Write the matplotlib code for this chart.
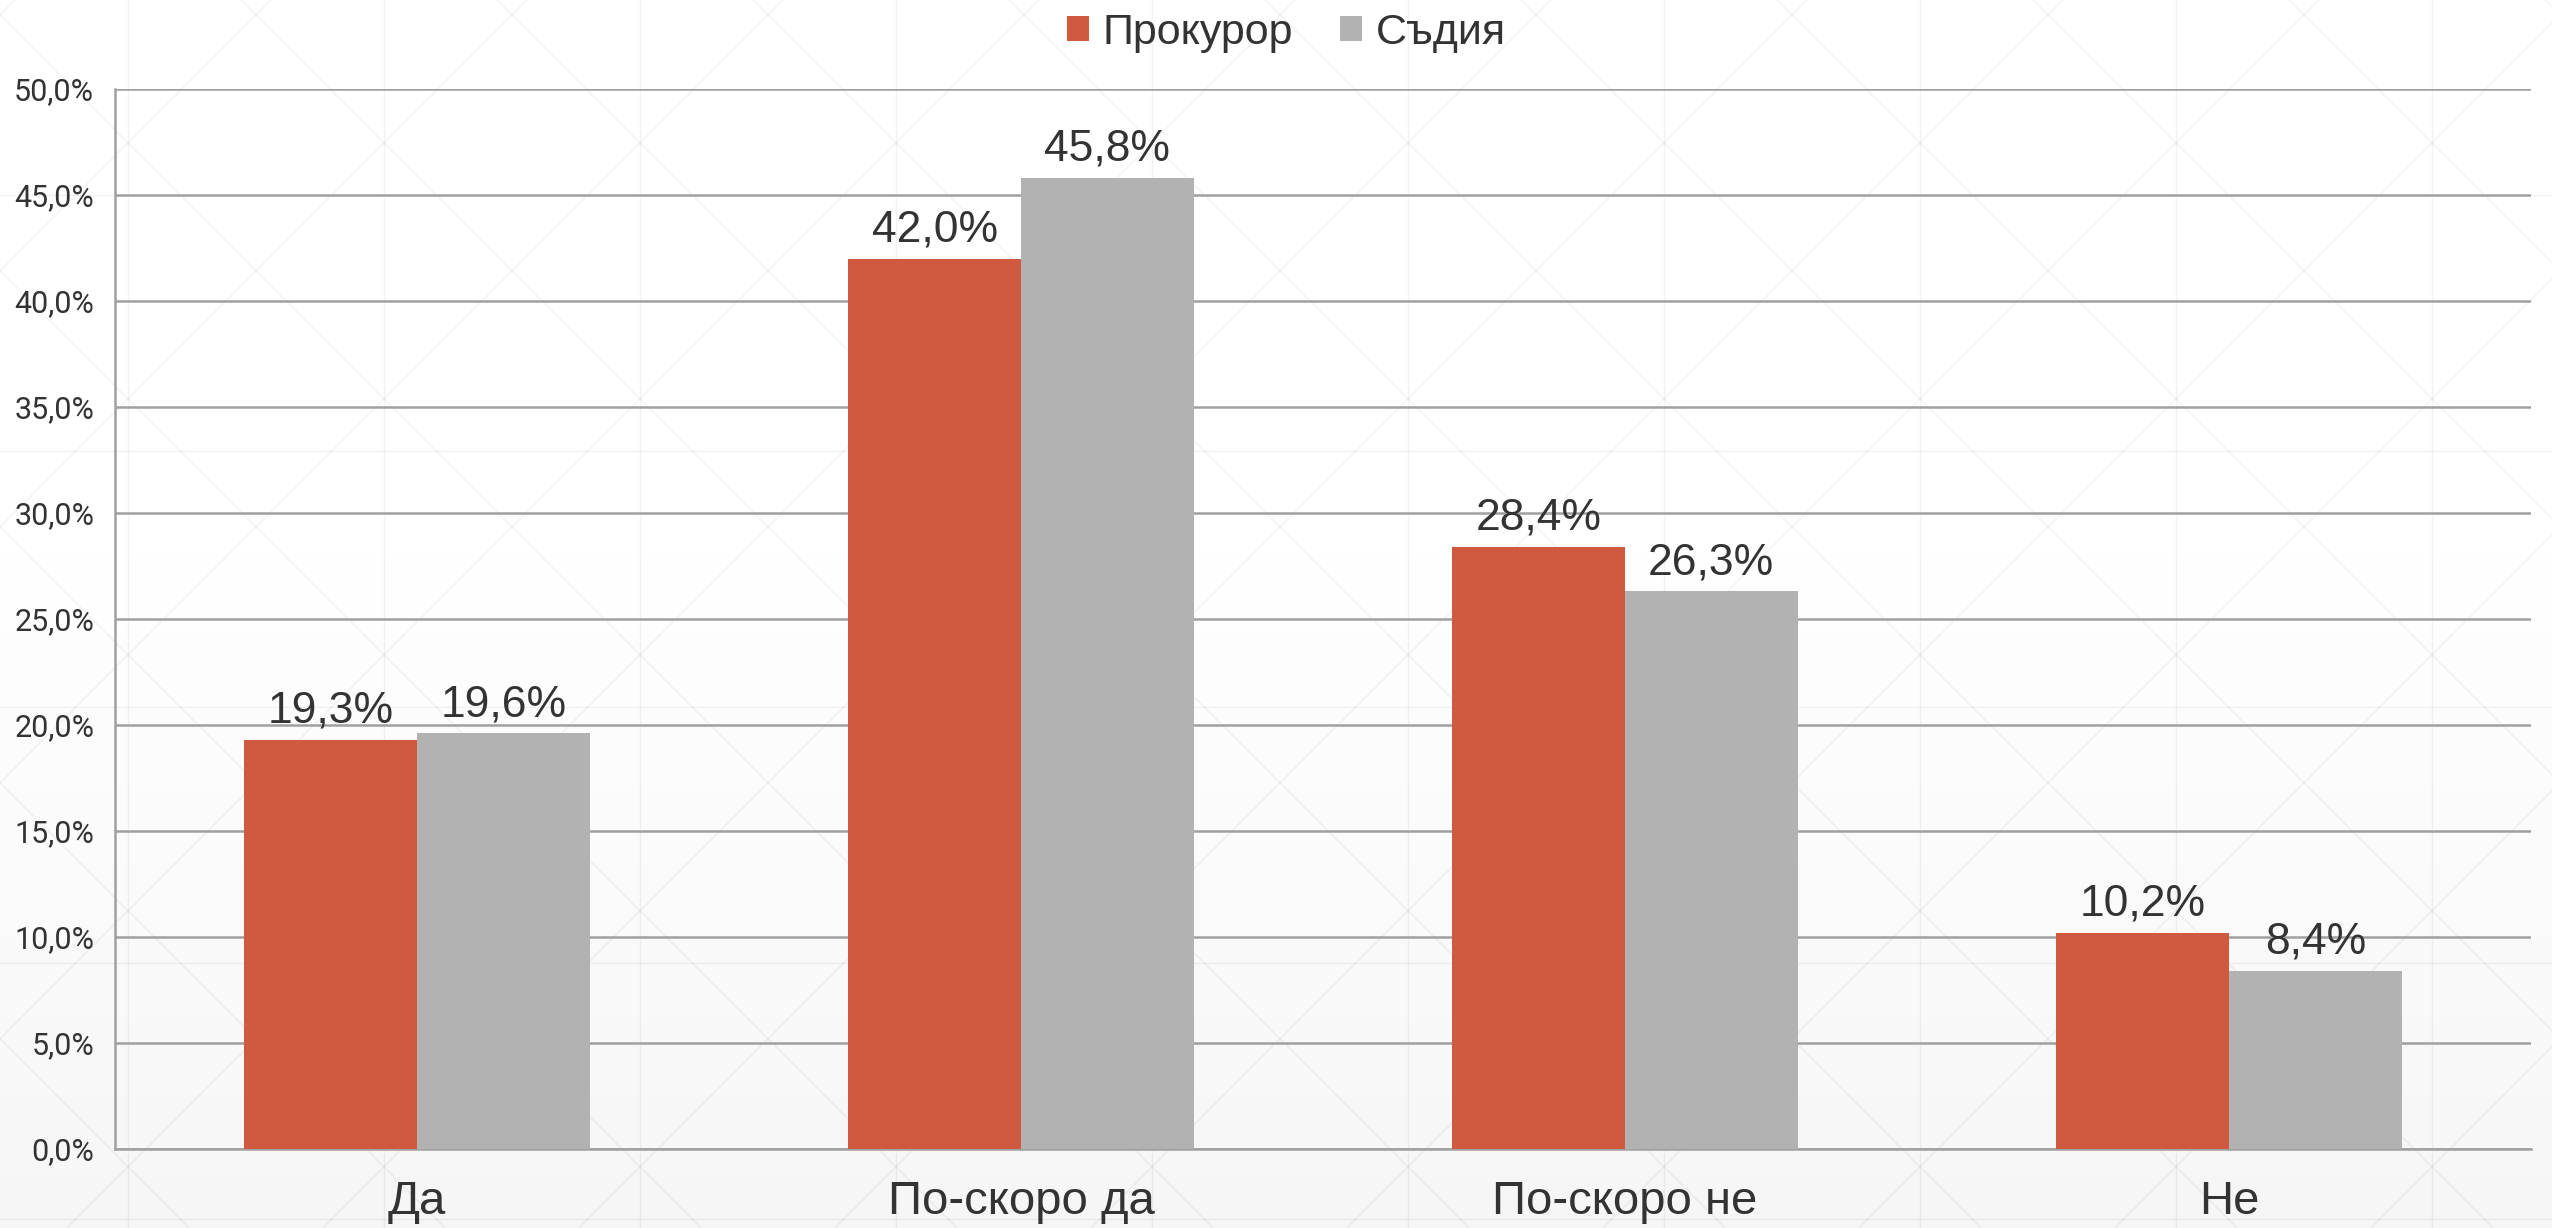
import matplotlib
matplotlib.use("Agg")
import matplotlib.pyplot as plt
import numpy as np
from matplotlib.ticker import FuncFormatter

# data
categories = ["Да", "По-скоро да", "По-скоро не", "Не"]
prokuror = [19.3, 42.0, 28.4, 10.2]
sadiya = [19.6, 45.8, 26.3, 8.4]
series_names = ["Прокурор", "Съдия"]

c_orange = "#D05A40"
c_gray = "#B2B2B2"
txt = "#333333"
grid_c = "#a0a0a0"

W, H = 2552, 1228
fig = plt.figure(figsize=(W / 100, H / 100), dpi=100)

# background: gradient + faint triangle pattern (pixel coords)
bg = fig.add_axes([0, 0, 1, 1], zorder=-10)
grad = np.concatenate([np.ones(100), np.linspace(1.0, 0.962, 156)]).reshape(-1, 1)
bg.imshow(grad, aspect="auto", cmap="gray", vmin=0, vmax=1, extent=[0, W, H, 0])
bg.set_xlim(0, W)
bg.set_ylim(H, 0)
step = 256
x0, y0 = 128, 195 - 2 * step
pc = dict(color="#000000", lw=1.0, alpha=0.05)
for xv in range(x0, W, step):
    bg.plot([xv, xv], [0, H], **pc)
for yv in range(y0, H + step, step):
    bg.plot([0, W], [yv, yv], **pc)
for k in range(-12, 20):
    c = x0 + k * step
    bg.plot([c - H - step, c + H + step], [y0 - step, y0 + 2 * H + step], **pc)
    bg.plot([c + H + step, c - H - step], [y0 - step, y0 + 2 * H + step], **pc)
bg.set_axis_off()

ax = fig.add_axes([115 / W, 1 - 1149 / H, (2531 - 115) / W, (1149 - 89) / H])
ax.patch.set_alpha(0)

x = np.arange(len(categories))
w = 0.286
b1 = ax.bar(x - w / 2, prokuror, w, color=c_orange, label=series_names[0], zorder=3)
b2 = ax.bar(x + w / 2, sadiya, w, color=c_gray, label=series_names[1], zorder=3)

for bars, vals in ((b1, prokuror), (b2, sadiya)):
    for r, v in zip(bars, vals):
        ax.annotate(f"{v:.1f}%".replace(".", ","),
                    (r.get_x() + r.get_width() / 2, r.get_height()),
                    xytext=(0, 6), textcoords="offset points",
                    ha="center", va="bottom", fontsize=32, color=txt,
                    family="Liberation Sans")

ax.set_xlim(-0.5, 3.5)
ax.set_ylim(0, 50)
ax.set_yticks(np.arange(0, 51, 5))
ax.yaxis.set_major_formatter(FuncFormatter(lambda v, p: f"{v:.1f}%".replace(".", ",")))
ax.grid(axis="y", color=grid_c, linewidth=1.8, zorder=0)
ax.set_xticks(x)
ax.set_xticklabels(categories, fontsize=34, color=txt, family="Liberation Sans")
ax.tick_params(axis="x", length=0, pad=22)
ax.tick_params(axis="y", length=0, pad=15, labelsize=22, labelcolor=txt)
for lab in ax.get_yticklabels():
    lab.set_family("Roboto")

for s in ("top", "right"):
    ax.spines[s].set_visible(False)
for s in ("left", "bottom"):
    ax.spines[s].set_color(grid_c)
    ax.spines[s].set_linewidth(1.8)

leg = fig.legend(loc="center", bbox_to_anchor=(0.504, 0.973), ncol=2, frameon=False,
                 prop={"family": "Liberation Sans", "size": 31},
                 handlelength=0.52, handleheight=0.52, handletextpad=0.3, columnspacing=1.1)
for t in leg.get_texts():
    t.set_color(txt)

fig.savefig("out.png", dpi=100)
